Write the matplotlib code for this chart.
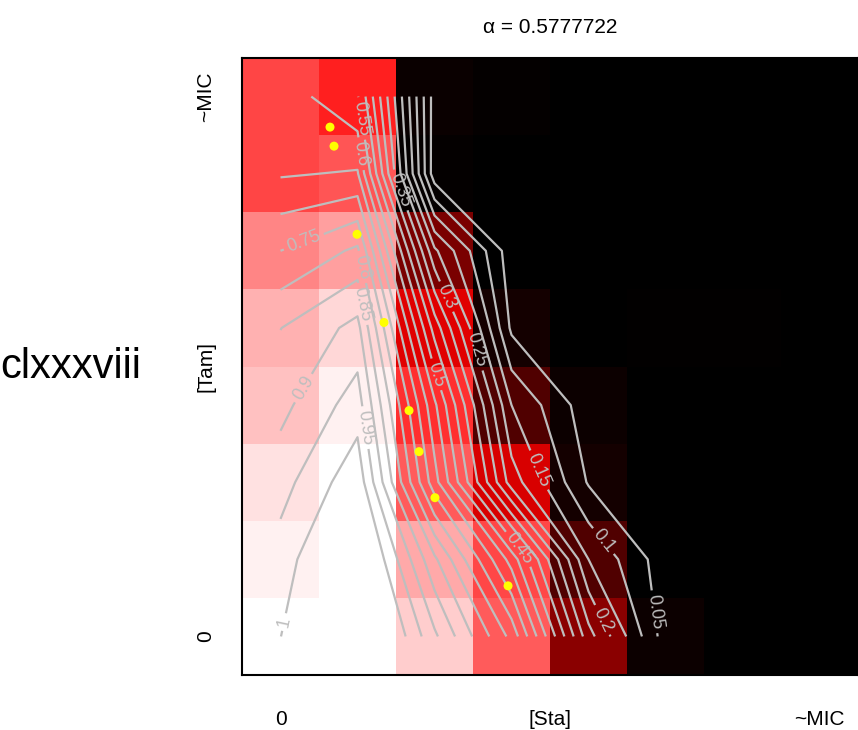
import numpy as np
import matplotlib
matplotlib.use("Agg")
import matplotlib.pyplot as plt
from matplotlib.colors import LinearSegmentedColormap

plt.rcParams['font.family'] = ['Liberation Sans', 'DejaVu Sans']

# ---- data ----
title_text = "α = 0.5777722"
side_text = "clxxxviii"
x_tick_labels = ["0", "[Sta]", "~MIC"]
y_tick_labels = ["0", "[Tam]", "~MIC"]

# observed response (heatmap), rows listed top (Tam ~MIC) to bottom (Tam 0)
heat_r7 = [0.635, 0.560, 0.020, 0.010, 0.002, 0.000, 0.000, 0.000]
heat_r6 = [0.635, 0.667, 0.010, 0.002, 0.000, 0.000, 0.000, 0.000]
heat_r5 = [0.760, 0.810, 0.240, 0.002, 0.000, 0.003, 0.000, 0.000]
heat_r4 = [0.845, 0.920, 0.440, 0.040, 0.002, 0.005, 0.005, 0.000]
heat_r3 = [0.876, 0.970, 0.590, 0.157, 0.025, 0.002, 0.000, 0.000]
heat_r2 = [0.940, 1.000, 0.676, 0.425, 0.040, 0.000, 0.000, 0.000]
heat_r1 = [0.970, 1.000, 0.830, 0.640, 0.157, 0.000, 0.000, 0.000]
heat_r0 = [1.000, 1.000, 0.900, 0.676, 0.270, 0.025, 0.000, 0.000]

# fitted response surface (contours), same layout
fit_r7 = [0.630, 0.555, 0.026, 0.000, 0.000, 0.000, 0.000, 0.000]
fit_r6 = [0.645, 0.655, 0.020, 0.000, 0.000, 0.000, 0.000, 0.000]
fit_r5 = [0.750, 0.810, 0.260, 0.020, 0.000, 0.000, 0.000, 0.000]
fit_r4 = [0.849, 0.916, 0.430, 0.040, 0.000, 0.000, 0.000, 0.000]
fit_r3 = [0.885, 0.975, 0.560, 0.150, 0.020, 0.000, 0.000, 0.000]
fit_r2 = [0.930, 1.035, 0.620, 0.225, 0.045, 0.000, 0.000, 0.000]
fit_r1 = [0.972, 1.100, 0.810, 0.530, 0.150, 0.020, 0.000, 0.000]
fit_r0 = [0.999, 1.150, 0.910, 0.685, 0.270, 0.025, 0.000, 0.000]

contour_levels = [0.05, 0.1, 0.15, 0.2, 0.25, 0.3, 0.35, 0.4, 0.45, 0.5,
                  0.55, 0.6, 0.65, 0.7, 0.75, 0.8, 0.85, 0.9, 0.95, 1.0]

# yellow points (x, y in cell units)
pts_x = [1.143, 1.195, 1.494, 1.844, 2.169, 2.299, 2.506, 3.455]
pts_y = [7.104, 6.857, 5.714, 4.571, 3.429, 2.896, 2.299, 1.156]

# contour labels shown in the reference and where they sit (layout only)
label_levels = [0.55, 0.6, 0.35, 0.75, 0.8, 0.3, 0.85, 0.25, 0.5, 0.9,
                0.95, 0.15, 0.45, 0.1, 0.2, 0.05, 1.0]
label_spots = [(1.51, 7.21), (1.49, 6.75), (2.09, 6.30), (0.79, 5.65),
               (1.56, 5.29), (2.57, 4.87), (1.56, 4.81), (3.06, 4.22),
               (2.53, 3.90), (0.78, 3.73), (1.62, 3.21), (4.13, 2.77),
               (3.74, 1.75), (4.71, 1.75), (4.73, 0.74), (5.36, 0.82),
               (0.53, 0.69)]

# ---- build ----
heat = np.array([heat_r0, heat_r1, heat_r2, heat_r3, heat_r4, heat_r5, heat_r6, heat_r7])
fit = np.array([fit_r0, fit_r1, fit_r2, fit_r3, fit_r4, fit_r5, fit_r6, fit_r7])
n_row, n_col = heat.shape

W, H = 858, 730
fig = plt.figure(figsize=(W / 100, H / 100), dpi=100)
ax = fig.add_axes([242 / W, (H - 675) / H, (858 - 242) / W, (675 - 58) / H])

cmap = LinearSegmentedColormap.from_list("bkrw", ["#000000", "#FF0000", "#FFFFFF"])
xe = np.arange(n_col + 1)
ye = np.arange(n_row + 1)
ax.pcolormesh(xe, ye, heat, cmap=cmap, vmin=0, vmax=1, shading="flat")

ax.set_xlim(0, n_col)
ax.set_ylim(0, n_row)

xc = np.arange(n_col) + 0.5
yc = np.arange(n_row) + 0.5
line_kw = dict(colors="#BEBEBE", linewidths=1.6)

unlabeled = [lv for lv in contour_levels if lv not in label_levels]
ax.contour(xc, yc, fit, levels=unlabeled, **line_kw)


def fmt(v):
    return f"{round(v, 2):g}"


for lvl, spot in zip(label_levels, label_spots):
    cs_l = ax.contour(xc, yc, fit, levels=[lvl], **line_kw)
    ax.clabel(cs_l, fmt=fmt, fontsize=13, inline=True,
              inline_spacing=4, colors="#BEBEBE", manual=[spot])

ax.scatter(pts_x, pts_y, s=42, color="#FFFF00", edgecolors="none", zorder=5)

ax.set_xticks([0.5, n_col / 2, n_col - 0.5])
ax.set_xticklabels(x_tick_labels, fontsize=15)
ax.set_yticks([0.5, n_row / 2, n_row - 0.5])
ax.set_yticklabels(y_tick_labels, fontsize=15, rotation=90, va="center")
ax.tick_params(axis="x", length=0, pad=25)
ax.tick_params(axis="y", length=0, pad=19)
for sp in ax.spines.values():
    sp.set_linewidth(1.5)
    sp.set_color("black")

ax.set_title(title_text, fontsize=15, pad=18)
fig.text(71 / W, (H - 367) / H, side_text, fontsize=30, ha="center", va="center")

fig.savefig("out.png", dpi=100)
